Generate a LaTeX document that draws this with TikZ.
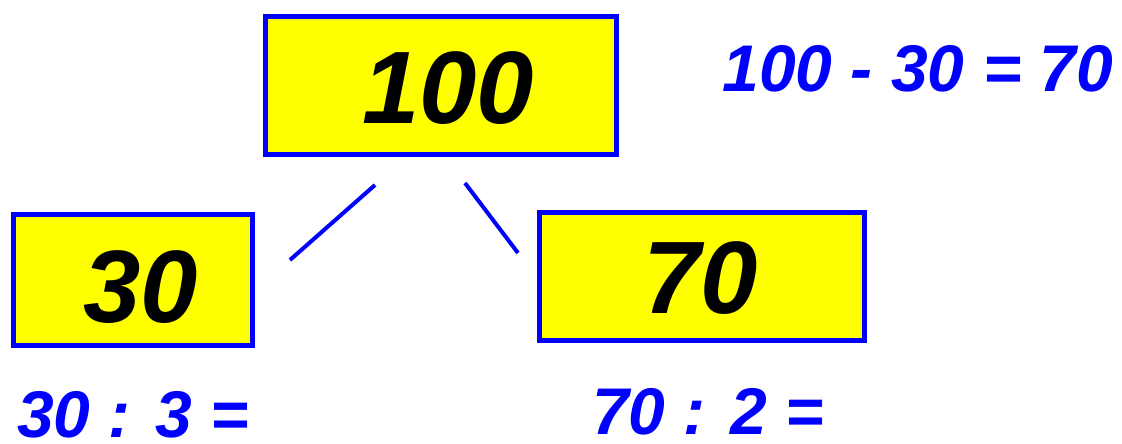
\documentclass[tikz,border=0pt]{standalone}
\usepackage{fontspec}
\setmainfont{Liberation Sans}
\usepackage{xcolor}
\usepackage{tikz}
\usetikzlibrary{calc}
\usetikzlibrary{positioning}

\definecolor{tblue}{RGB}{0,0,255}
\definecolor{tyellow}{RGB}{255,255,0}

\begin{document}
\begin{tikzpicture}[x=1pt,y=-1pt,-,semithick]
						\tikzstyle{numbox}=[draw=tblue, line width=5pt, fill=tyellow, inner sep=0pt]
						\tikzstyle{num}=[font=\fontsize{103}{110}\selectfont\bfseries\itshape, text=black, anchor=base, inner sep=0pt]
						\tikzstyle{calc}=[font=\fontsize{66}{72}\selectfont\bfseries\itshape, text=tblue, anchor=base, inner sep=0pt, text depth=0pt]
						\tikzstyle{branch}=[draw=tblue, line width=4pt]
						\useasboundingbox (0,0) rectangle (1122,444);

						\node[numbox, minimum width=351pt, minimum height=138pt] 	(T) at (441,85.5) {};
						\node[numbox, minimum width=239pt, minimum height=131pt] 	(L) at (133,280) {};
						\node[numbox, minimum width=325pt, minimum height=128pt] 	(R) at (702,276.5) {};

						\node[num] 		(T100) at (448,123) {100};
						\node[num] 		(L30) at (141,322) {30};
						\node[num] 		(R70) at (701,313) {70};

						\node[calc] 		(sub) at (918,92) {100 - 30 = 70};
						\node[calc] 		(divl) at (133,437) {30 : 3 =};
						\node[calc] 		(divr) at (708,434) {70 : 2 =};

						\coordinate (TL) at (375,185);
						\coordinate (LT) at (290,260);
						\coordinate (TR) at (465,183);
						\coordinate (RT) at (518,253);

						\path
							(TL) edge [branch] (LT)
							(TR) edge [branch] (RT);

				\end{tikzpicture}
\end{document}
